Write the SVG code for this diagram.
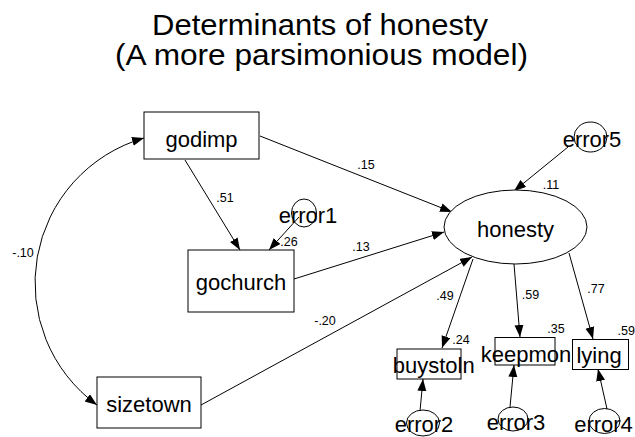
<svg xmlns="http://www.w3.org/2000/svg" width="635" height="437" viewBox="0 0 635 437">
  <style>
    text { font-family: "Liberation Sans", Arial, sans-serif; fill: #000; }
    .title { font-size: 30px; text-anchor: middle; }
    .lbl { font-size: 22px; text-anchor: middle; }
    .coef { font-size: 12.5px; text-anchor: middle; }
    .box { fill: #fff; stroke: #000; stroke-width: 1; }
    .err { fill: none; stroke: #000; stroke-width: 1; }
    .path { fill: none; stroke: #000; stroke-width: 1; marker-end: url(#head); }
  </style>
  <defs>
    <marker id="head" markerUnits="userSpaceOnUse" markerWidth="13" markerHeight="10" refX="12" refY="4.5" orient="auto-start-reverse">
      <path d="M0,0 L12,4.5 L0,9 z" fill="#000"/>
    </marker>
  </defs>

  <rect width="635" height="437" fill="#fff"/>

  <g id="title">
    <text class="title" x="320" y="35" textLength="336" lengthAdjust="spacingAndGlyphs">Determinants of honesty</text>
    <text class="title" x="321.5" y="65" textLength="413" lengthAdjust="spacingAndGlyphs">(A more parsimonious model)</text>
  </g>

  <!-- regression paths and the covariance arc -->
  <g id="connectors">
    <path class="path" d="M144,138 A151,151 0 0 0 97,405" marker-start="url(#head)"/>
    <line class="path" x1="185" y1="160" x2="240" y2="250"/>
    <line class="path" x1="299" y1="217" x2="269" y2="250"/>
    <line class="path" x1="260" y1="136" x2="452" y2="212"/>
    <line class="path" x1="294" y1="279" x2="444" y2="232"/>
    <line class="path" x1="201" y1="405" x2="472" y2="257"/>
    <line class="path" x1="568" y1="147" x2="514" y2="191"/>
    <line class="path" x1="473" y1="259" x2="442" y2="348"/>
    <line class="path" x1="514" y1="264" x2="520" y2="337"/>
    <line class="path" x1="569" y1="253" x2="593" y2="339"/>
    <line class="path" x1="420" y1="411" x2="423" y2="379"/>
    <line class="path" x1="510" y1="407" x2="514" y2="365"/>
    <line class="path" x1="607" y1="409" x2="598" y2="369"/>
  </g>

  <g id="coefficients">
    <text class="coef" x="23" y="257">-.10</text>
    <text class="coef" x="225" y="202">.51</text>
    <text class="coef" x="289" y="246">.26</text>
    <text class="coef" x="366" y="169">.15</text>
    <text class="coef" x="361" y="251">.13</text>
    <text class="coef" x="325" y="325">-.20</text>
    <text class="coef" x="551" y="189">.11</text>
    <text class="coef" x="445" y="300">.49</text>
    <text class="coef" x="530.5" y="299">.59</text>
    <text class="coef" x="596" y="293">.77</text>
    <text class="coef" x="461" y="344">.24</text>
    <text class="coef" x="556" y="333">.35</text>
    <text class="coef" x="617.5" y="335" style="text-anchor:start">.59</text>
  </g>

  <g id="godimp">
    <rect class="box" x="144" y="112" width="115" height="47"/>
    <text class="lbl" x="201.5" y="147">godimp</text>
  </g>
  <g id="gochurch">
    <rect class="box" x="188" y="250" width="106" height="62"/>
    <text class="lbl" x="241" y="290">gochurch</text>
  </g>
  <g id="sizetown">
    <rect class="box" x="97" y="377" width="104" height="51"/>
    <text class="lbl" x="149" y="412">sizetown</text>
  </g>
  <g id="honesty">
    <ellipse class="box" cx="515.5" cy="227" rx="71.5" ry="37"/>
    <text class="lbl" x="515.5" y="237">honesty</text>
  </g>
  <g id="buystoln">
    <rect class="box" x="397" y="349" width="64" height="30"/>
    <text class="lbl" x="433.7" y="373">buystoln</text>
  </g>
  <g id="keepmon">
    <rect class="box" x="495" y="337.5" width="60" height="27.5"/>
    <text class="lbl" x="526" y="361.5">keepmon</text>
  </g>
  <g id="lying">
    <rect class="box" x="572.5" y="339.5" width="56" height="30"/>
    <text class="lbl" x="599" y="363">lying</text>
  </g>
  <g id="error1">
    <ellipse class="err" cx="304" cy="213" rx="12.5" ry="14"/>
    <text class="lbl" x="308" y="223">error1</text>
  </g>
  <g id="error5">
    <ellipse class="err" cx="590.5" cy="137" rx="16.5" ry="15"/>
    <text class="lbl" x="592" y="147">error5</text>
  </g>
  <g id="error2">
    <ellipse class="err" cx="423" cy="423" rx="16.5" ry="13"/>
    <text class="lbl" x="424" y="432">error2</text>
  </g>
  <g id="error3">
    <ellipse class="err" cx="513" cy="419" rx="15" ry="12"/>
    <text class="lbl" x="516" y="430">error3</text>
  </g>
  <g id="error4">
    <ellipse class="err" cx="604.5" cy="421" rx="15.5" ry="12.5"/>
    <text class="lbl" x="603.5" y="431.5">error4</text>
  </g>
</svg>
